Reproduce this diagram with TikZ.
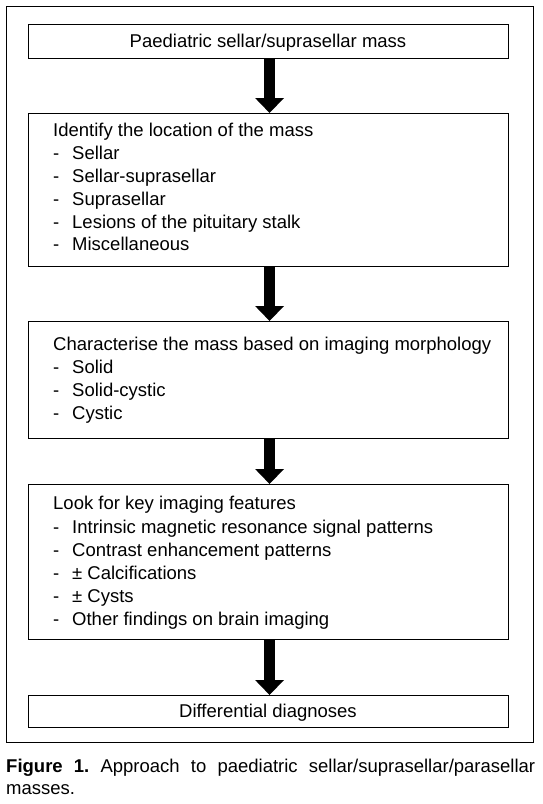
\documentclass[tikz,border=0pt]{standalone}
\usepackage{fontspec}
\setmainfont{Liberation Sans}
\usetikzlibrary{arrows.meta}
\newcommand\itm[1]{\makebox[19pt][l]{-}#1}
\begin{document}
\begin{tikzpicture}[x=1pt,y=-1pt,
  box/.style={draw, line width=1.1pt, minimum width=480pt, inner sep=0pt, anchor=north west},
  txt/.style={anchor=base west, inner sep=0pt, font=\fontsize{18.5}{22}\selectfont},
  ctxt/.style={anchor=base, inner sep=0pt, font=\fontsize{18.5}{22}\selectfont},
  flow/.style={line width=11pt, -{Triangle[width=28pt,length=15pt]}},
]
\useasboundingbox (0,0) rectangle (542,804);
\fill[white] (0,0) rectangle (542,804);
\node[draw, line width=1.1pt, minimum width=527pt, minimum height=736pt, inner sep=0pt, anchor=north west] (frame) at (6,6) {};

\node[box, minimum height=34pt] (b1) at (28,24) {};
\node[box, minimum height=153pt] (b2) at (28,113) {};
\node[box, minimum height=117pt] (b3) at (28,321) {};
\node[box, minimum height=155pt] (b4) at (28,484) {};
\node[box, minimum height=32pt] (b5) at (28,695) {};

\node[ctxt] (t1) at (268,47) {Paediatric sellar/suprasellar mass};

\node[txt] (t2a) at (53,136) {Identify the location of the mass};
\node[txt] (t2b) at (53,159) {\itm{Sellar}};
\node[txt] (t2c) at (53,182) {\itm{Sellar-suprasellar}};
\node[txt] (t2d) at (53,205) {\itm{Suprasellar}};
\node[txt] (t2e) at (53,228) {\itm{Lesions of the pituitary stalk}};
\node[txt] (t2f) at (53,250) {\itm{Miscellaneous}};

\node[txt] (t3a) at (53,350) {Characterise the mass based on imaging morphology};
\node[txt] (t3b) at (53,373) {\itm{Solid}};
\node[txt] (t3c) at (53,396) {\itm{Solid-cystic}};
\node[txt] (t3d) at (53,419) {\itm{Cystic}};

\node[txt] (t4a) at (53,509) {Look for key imaging features};
\node[txt] (t4b) at (53,533) {\itm{Intrinsic magnetic resonance signal patterns}};
\node[txt] (t4c) at (53,556) {\itm{Contrast enhancement patterns}};
\node[txt] (t4d) at (53,579) {\itm{± Calcifications}};
\node[txt] (t4e) at (53,602) {\itm{± Cysts}};
\node[txt] (t4f) at (53,625) {\itm{Other findings on brain imaging}};

\node[ctxt] (t5) at (268,717) {Differential diagnoses};

\draw[flow] ([xshift=1pt]b1.south) -- ([xshift=1pt]b2.north);
\draw[flow] ([xshift=1pt]b2.south) -- ([xshift=1pt]b3.north);
\draw[flow] ([xshift=1pt]b3.south) -- ([xshift=1pt]b4.north);
\draw[flow] ([xshift=1pt]b4.south) -- ([xshift=1pt]b5.north);

\node[txt] (cap1) at (6,772) {\hbox to 529pt{\textbf{Figure\hfill 1.}\hfill Approach\hfill to\hfill paediatric\hfill sellar/suprasellar/parasellar}};
\node[txt] (cap2) at (6,794) {masses.};
\end{tikzpicture}
\end{document}
